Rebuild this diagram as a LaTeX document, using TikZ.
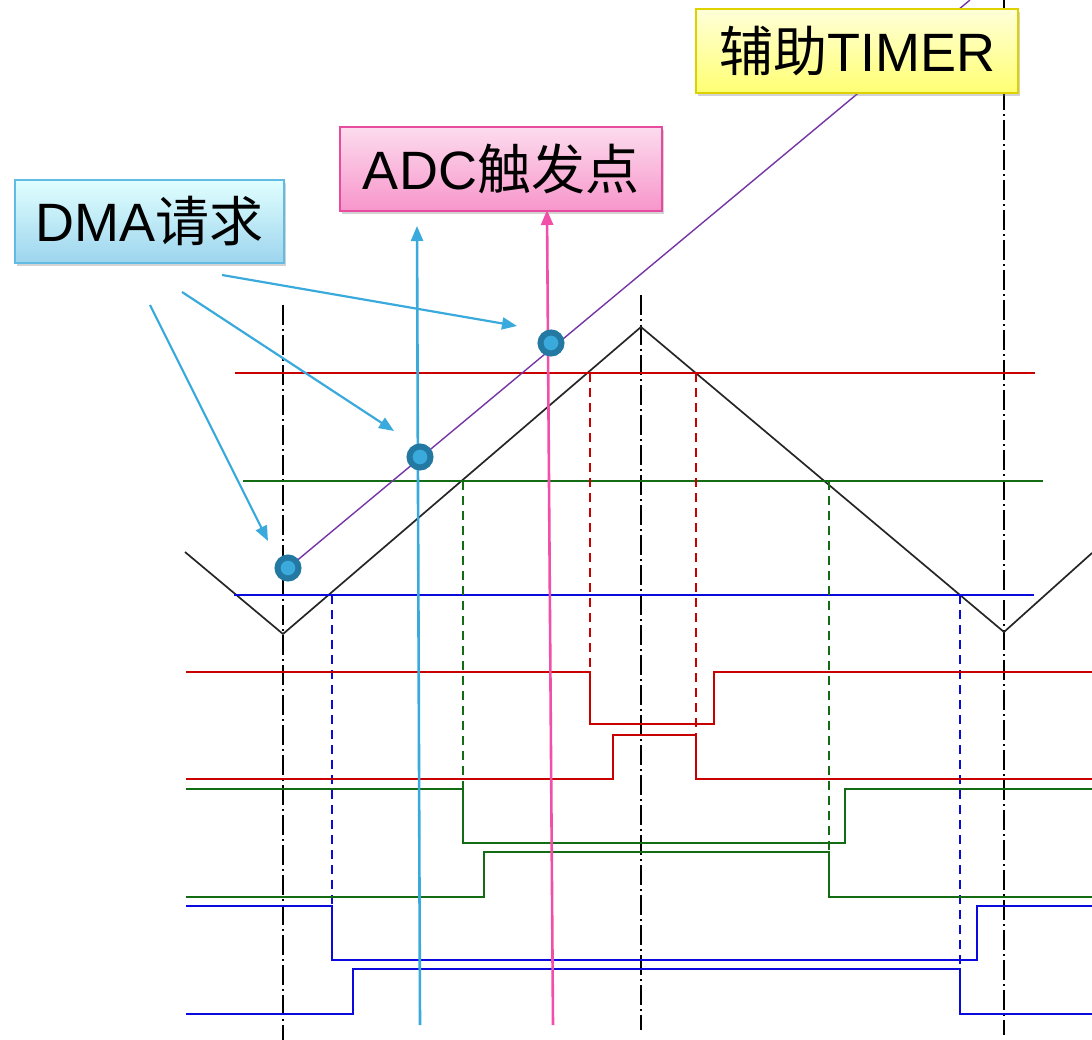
\documentclass[tikz,border=0pt]{standalone}
\usepackage{fontspec}
\setmainfont{Liberation Sans}
\newfontfamily\cjk{Noto Sans CJK SC}
\usetikzlibrary{arrows.meta,shadows}
\definecolor{wred}{HTML}{C80000}
\definecolor{wgreen}{HTML}{136B13}
\definecolor{wblue}{HTML}{0A0ADC}
\definecolor{tpurple}{HTML}{7535A8}
\definecolor{acyan}{HTML}{3AAADC}
\definecolor{apink}{HTML}{F24FA8}
\definecolor{dotfill}{HTML}{3AAADC}
\definecolor{dotedge}{HTML}{2479A3}
\tikzset{
  wave/.style={line width=1.9pt},
  tri/.style={line width=1.7pt, black!85},
  axisdd/.style={line width=1.6pt, black, dash pattern=on 20pt off 4pt on 2pt off 4pt},
  proj/.style={line width=1.6pt, dash pattern=on 9pt off 6pt},
  lvl/.style={line width=1.9pt},
  carrow/.style={line width=2.6pt, acyan, -{Triangle[length=15pt,width=12pt]}},
  parrow/.style={line width=2.6pt, apink, -{Triangle[length=15pt,width=12pt]}},
  dotmark/.style={circle, minimum size=21pt, inner sep=0pt, fill=dotfill, draw=dotedge, line width=6pt},
  label/.style={inner sep=0pt, font=\fontsize{54}{60}\selectfont, drop shadow={opacity=0.35, shadow xshift=2pt, shadow yshift=-3pt}, line width=1.4pt},
}
\begin{document}
\begin{tikzpicture}[x=1pt,y=-1pt]
\useasboundingbox (0,0) rectangle (1092,1040);
% axes (dash-dot)
\draw[axisdd] (283,305) -- (283,1040);
\draw[axisdd] (641,295) -- (641,1030);
\draw[axisdd] (1004,0) -- (1004,1035);
% triangle wave
\draw[tri] (185,552) -- (283,634) -- (641,327) -- (1004,632) -- (1092,553);
% level lines
\draw[lvl, wred] (235,373) -- (1035,373);
\draw[lvl, wgreen] (243,481) -- (1043,481);
\draw[lvl, wblue] (234,595) -- (1034,595);
% projections
\draw[proj, wred] (590,373) -- (590,672);
\draw[proj, wred] (696,373) -- (696,735);
\draw[proj, wgreen] (463,481) -- (463,789);
\draw[proj, wgreen] (829,481) -- (829,852);
\draw[proj, wblue] (332,595) -- (332,906);
\draw[proj, wblue] (960,595) -- (960,969);
% PWM waveforms
\draw[wave, wred] (186,672) -- (590,672) -- (590,724) -- (714,724) -- (714,672) -- (1092,672);
\draw[wave, wred] (186,779) -- (613,779) -- (613,735) -- (696,735) -- (696,779) -- (1092,779);
\draw[wave, wgreen] (186,789) -- (463,789) -- (463,843) -- (845,843) -- (845,789) -- (1092,789);
\draw[wave, wgreen] (186,897) -- (484,897) -- (484,852) -- (829,852) -- (829,897) -- (1092,897);
\draw[wave, wblue] (186,906) -- (332,906) -- (332,960) -- (977,960) -- (977,906) -- (1092,906);
\draw[wave, wblue] (186,1014) -- (353,1014) -- (353,969) -- (960,969) -- (960,1014) -- (1092,1014);
% auxiliary timer ramp
\coordinate (rampA) at (288,568);
\coordinate (rampB) at (970,0);
\draw[line width=1.4pt, tpurple] (rampA) -- (rampB);
% labels
\node[label, draw=acyan!80, top color=cyan!12, bottom color=acyan!50,
  minimum width=269pt, minimum height=83pt] (dma) at (149.5,221.5) {DMA{\cjk 请求}};
\node[label, draw=apink!95!black, top color=apink!20, bottom color=apink!60,
  minimum width=322pt, minimum height=84pt] (adc) at (501,169) {ADC{\cjk 触发点}};
\node[label, draw=yellow!70!olive, top color=yellow!15, bottom color=yellow!55,
  minimum width=322pt, minimum height=84pt] (tim) at (857,51) {{\cjk 辅助}TIMER};
% vertical trigger arrows
\coordinate (cb) at (420,1025);
\coordinate (ct) at (417,226);
\coordinate (pb) at (553,1025);
\coordinate (pt) at (547,210);
\draw[carrow] (cb) -- (ct);
\draw[parrow] (pb) -- (pt);
% DMA arrows
\coordinate (d1s) at (150,305); \coordinate (d1e) at (268,541);
\coordinate (d2s) at (182,292); \coordinate (d2e) at (394,431);
\coordinate (d3s) at (222,275); \coordinate (d3e) at (517,326);
\draw[carrow, line width=2.2pt] (d1s) -- (d1e);
\draw[carrow, line width=2.2pt] (d2s) -- (d2e);
\draw[carrow, line width=2.2pt] (d3s) -- (d3e);
% sample dots
\node[dotmark] (p1) at (288,568) {};
\node[dotmark] (p2) at (420,457) {};
\node[dotmark] (p3) at (551,343) {};
\end{tikzpicture}
\end{document}
